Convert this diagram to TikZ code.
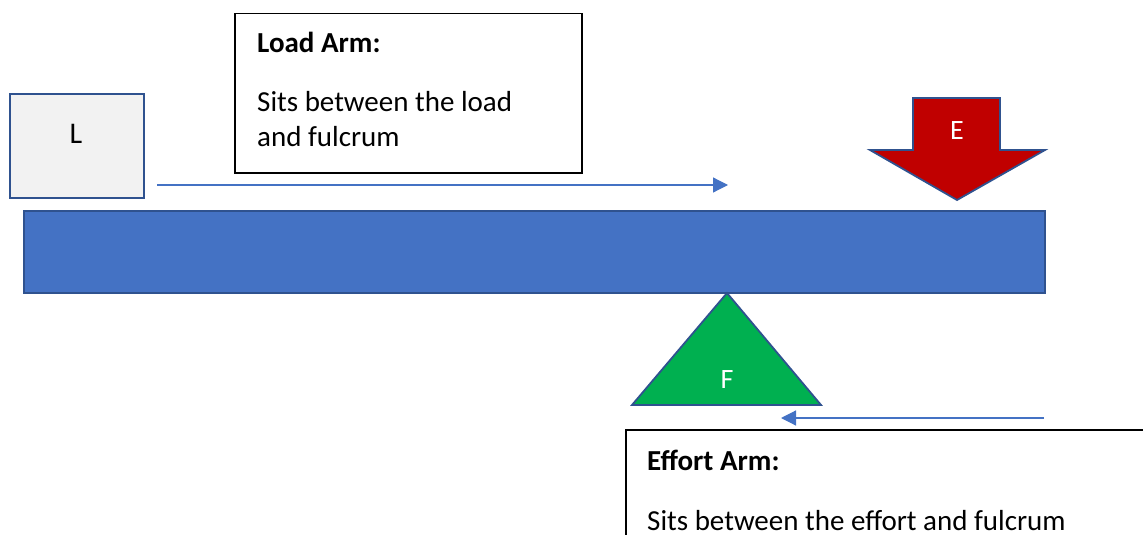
\documentclass[tikz,border=0pt]{standalone}
\usepackage{fontspec}
\setmainfont{Carlito}
\usetikzlibrary{arrows.meta}
\definecolor{beamblue}{HTML}{4472C4}
\definecolor{edgeblue}{HTML}{2F528F}
\definecolor{loadgray}{HTML}{F2F2F2}
\definecolor{effortred}{HTML}{C00000}
\definecolor{fulgreen}{HTML}{00B050}
\begin{document}
\begin{tikzpicture}[x=1pt,y=-1pt,
  shapebox/.style={draw=edgeblue, line width=1.8pt},
  textbox/.style={draw=black, line width=1.5pt, fill=white, inner sep=0pt, anchor=north west},
  armarrow/.style={draw=beamblue, line width=1.2pt, -{Triangle[length=15pt,width=15pt]}},
  bigtext/.style={font=\fontsize{29}{35}\selectfont, inner sep=0pt, anchor=base west},
  letter/.style={font=\fontsize{28}{34}\selectfont, inner sep=0pt, anchor=base},
  ]
\useasboundingbox (0,0) rectangle (1143,535);
\clip (0,0) rectangle (1143,535);
% load box
\node[shapebox, fill=loadgray, minimum width=134pt, minimum height=104pt, inner sep=0pt, anchor=north west] (L) at (9,93) {};
\node[letter, font=\fontsize{30}{36}\selectfont] (Ltext) at (76,143) {L};
% load arm text box
\node[textbox, minimum width=347pt, minimum height=159pt] (loadarm) at (234,13) {};
\node[bigtext, font=\fontsize{29}{35}\selectfont\bfseries] (loadtitle) at (257,53) {Load Arm:};
\node[bigtext] (loadline1) at (257,111) {Sits between the load};
\node[bigtext] (loadline2) at (257,146) {and fulcrum};
% beam
\node[shapebox, fill=beamblue, minimum width=1021pt, minimum height=82pt, inner sep=0pt, anchor=north west] (beam) at (23,210) {};
% effort arrow
\draw[shapebox, fill=effortred] (913,98) -- (1000,98) -- (1000,150) -- (1045,150) -- (957,200) -- (870,150) -- (913,150) -- cycle;
\node[letter, text=white] (Etext) at (957,139) {E};
% fulcrum
\draw[shapebox, fill=fulgreen] (727,293) -- (821,405) -- (632,405) -- cycle;
\node[letter, text=white] (Ftext) at (727,388) {F};
% effort arm text box
\node[textbox, minimum width=540pt, minimum height=140pt] (effortarm) at (625,429) {};
\node[bigtext, font=\fontsize{29}{35}\selectfont\bfseries] (efforttitle) at (647,470) {Effort Arm:};
\node[bigtext] (effortline) at (647,530) {Sits between the effort and fulcrum};
% arm arrows
\coordinate (la1) at (157,185);
\coordinate (la2) at (728,185);
\draw[armarrow] (la1) -- (la2);
\coordinate (ea1) at (1044,418);
\coordinate (ea2) at (781,418);
\draw[armarrow] (ea1) -- (ea2);
\end{tikzpicture}
\end{document}
